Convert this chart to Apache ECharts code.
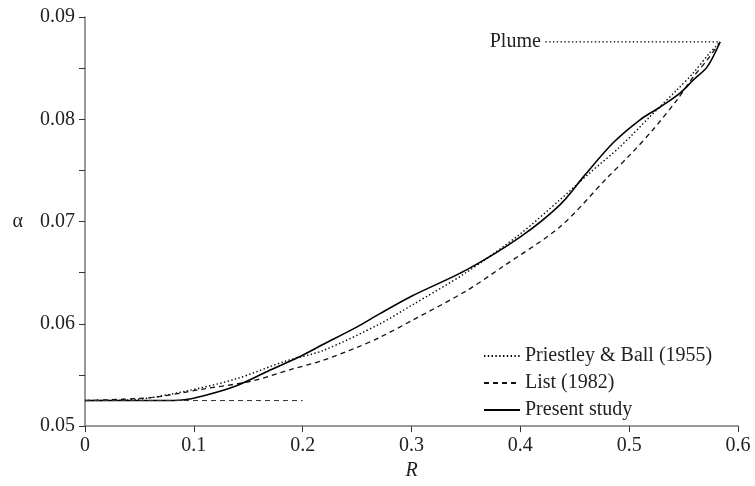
<!DOCTYPE html>
<html><head><meta charset="utf-8">
<script src="https://cdn.jsdelivr.net/npm/echarts@6/dist/echarts.min.js"></script>
<style>html,body{margin:0;padding:0;background:#fff}#c{width:755px;height:486px}</style>
</head><body><div id="c"></div>
<script>
// Data
var presentR = [0, 0.04, 0.07, 0.089, 0.11, 0.138, 0.168, 0.196, 0.219, 0.25, 0.271, 0.3, 0.351, 0.4, 0.4366, 0.4596, 0.4853, 0.51, 0.5285, 0.547, 0.559, 0.5717, 0.5836];
var presentA = [0.0525, 0.0525, 0.0525, 0.05255, 0.0530, 0.0539, 0.05537, 0.05673, 0.0580, 0.0597, 0.0610, 0.0627, 0.0653, 0.0685, 0.07166, 0.07459, 0.0777, 0.07995, 0.0812, 0.08259, 0.08385, 0.08512, 0.08756];
var priestleyR = [0, 0.046, 0.092, 0.138, 0.184, 0.219, 0.271, 0.3, 0.35, 0.4, 0.4366, 0.464, 0.4917, 0.519, 0.544, 0.559, 0.574, 0.5836];
var priestleyA = [0.0525, 0.0526, 0.05341, 0.05459, 0.05634, 0.0574, 0.0600, 0.0618, 0.0650, 0.0688, 0.07215, 0.07478, 0.07732, 0.08024, 0.08288, 0.08454, 0.08649, 0.08756];
var listR = [0, 0.062, 0.107, 0.153, 0.19, 0.219, 0.25, 0.271, 0.3, 0.35, 0.384, 0.4366, 0.48, 0.501, 0.522, 0.544, 0.559, 0.5717, 0.5836];
var listA = [0.0525, 0.0528, 0.0536, 0.0544, 0.05556, 0.05644, 0.0577, 0.05868, 0.0603, 0.0632, 0.0656, 0.0695, 0.0743, 0.07654, 0.0790, 0.0819, 0.08415, 0.0858, 0.08756];
var baseR = [0, 0.2];
var baseA = [0.0525, 0.0525];
var plumeR = [0.423, 0.5836];
var plumeA = [0.08756, 0.08756];
var xTicks = [0, 0.1, 0.2, 0.3, 0.4, 0.5, 0.6];
var yTicks = [0.05, 0.06, 0.07, 0.08, 0.09];

function pairs(xs, ys) { return xs.map(function (x, i) { return [x, ys[i]]; }); }
var FONT = 'Liberation Serif';
var FS = 20;
var chart = echarts.init(document.getElementById('c'));
chart.setOption({
  animation: false,
  textStyle: { fontFamily: FONT },
  grid: { left: 85, right: 17, top: 17, bottom: 59 },
  xAxis: {
    type: 'value', min: xTicks[0], max: xTicks[xTicks.length - 1], interval: 0.1,
    name: 'R', nameLocation: 'middle', nameGap: 33,
    nameTextStyle: { fontFamily: FONT, fontSize: FS, fontStyle: 'italic', color: '#222' },
    axisLine: { lineStyle: { color: '#777', width: 1.5 } },
    axisTick: { show: true, length: 6, lineStyle: { color: '#333' } },
    splitLine: { show: false },
    axisLabel: { fontFamily: FONT, fontSize: FS, color: '#222', margin: 10,
      formatter: function (v) { return v === 0 ? '0' : v.toFixed(1); } }
  },
  yAxis: {
    type: 'value', min: yTicks[0], max: yTicks[yTicks.length - 1], interval: 0.01,
    name: 'α', nameLocation: 'middle', nameGap: 62, nameRotate: 0,
    nameTextStyle: { fontFamily: FONT, fontSize: FS, color: '#222' },
    axisLine: { show: true, lineStyle: { color: '#777', width: 1.5 } },
    axisTick: { show: true, length: 6, lineStyle: { color: '#333' } },
    minorTick: { show: true, splitNumber: 2, length: 6, lineStyle: { color: '#333' } },
    splitLine: { show: false },
    axisLabel: { fontFamily: FONT, fontSize: FS, color: '#222', margin: 10,
      formatter: function (v) { return v.toFixed(2); } }
  },
  legend: {
    left: 478, top: 341, orient: 'vertical', itemWidth: 36, itemHeight: 10, itemGap: 7,
    itemStyle: { opacity: 0 },
    textStyle: { fontFamily: FONT, fontSize: FS, color: '#222' },
    data: ['Priestley & Ball (1955)', 'List (1982)', 'Present study']
  },
  series: [
    { name: 'Priestley & Ball (1955)', type: 'line', data: pairs(priestleyR, priestleyA), smooth: 0.3, symbol: 'none',
      lineStyle: { color: '#000', width: 1.4, type: [1.4, 2.4] }, itemStyle: { color: '#000' } },
    { name: 'List (1982)', type: 'line', data: pairs(listR, listA), smooth: 0.3, symbol: 'none',
      lineStyle: { color: '#111', width: 1.3, type: [5, 4] }, itemStyle: { color: '#111' } },
    { name: 'Present study', type: 'line', data: pairs(presentR, presentA), smooth: 0.3, symbol: 'none',
      lineStyle: { color: '#000', width: 1.6 }, itemStyle: { color: '#000' } },
    { name: 'base', type: 'line', data: pairs(baseR, baseA), symbol: 'none', silent: true,
      lineStyle: { color: '#333', width: 1, type: [5, 4] } },
    { name: 'plume', type: 'line', silent: true, symbol: 'circle', symbolSize: 1, showSymbol: true,
      itemStyle: { color: 'rgba(0,0,0,0)' },
      data: [{ value: [plumeR[0], plumeA[0]], label: { show: true, position: 'left', distance: 4, formatter: 'Plume',
        fontFamily: FONT, fontSize: FS, color: '#222' } }, { value: [plumeR[1], plumeA[1]] }],
      lineStyle: { color: '#000', width: 1.3, type: [1.4, 2.4] } }
  ]
});
</script></body></html>
